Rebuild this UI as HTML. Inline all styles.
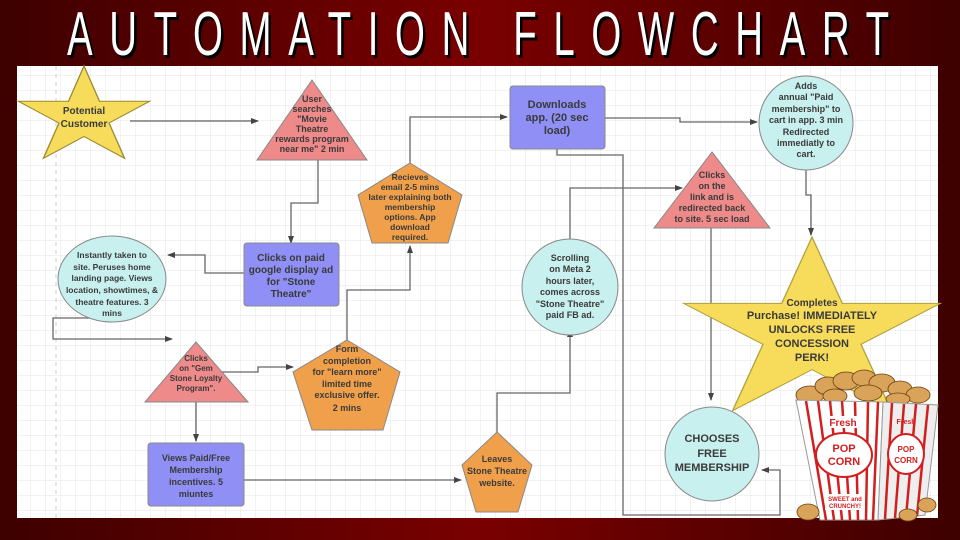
<!DOCTYPE html>
<html><head><meta charset="utf-8"><style>
html,body{margin:0;padding:0;width:960px;height:540px;overflow:hidden;background:#5a0000}
svg{display:block}
text{font-family:"Liberation Sans",Arial,sans-serif;font-weight:bold;fill:#3a3a3a;text-anchor:middle}
</style></head><body>
<svg width="960" height="540" viewBox="0 0 960 540" xmlns="http://www.w3.org/2000/svg">
<defs>
<linearGradient id="bg" x1="0" y1="0" x2="1" y2="0">
<stop offset="0" stop-color="#3e0000"/><stop offset="0.5" stop-color="#7a0000"/><stop offset="1" stop-color="#3e0000"/>
</linearGradient>
<pattern id="grid" width="15" height="15" patternUnits="userSpaceOnUse">
<path d="M15 0H0V15" fill="none" stroke="#e4e4e4" stroke-width="1"/>
</pattern>
<marker id="ar" markerWidth="8" markerHeight="8" refX="7" refY="4" orient="auto" markerUnits="userSpaceOnUse">
<path d="M0,1 L8,4 L0,7z" fill="#444"/>
</marker>
<polygon id="star" points="0,-1 0.2245,-0.309 0.951,-0.309 0.363,0.118 0.588,0.809 0,0.382 -0.588,0.809 -0.363,0.118 -0.951,-0.309 -0.2245,-0.309"/>
</defs>
<rect width="960" height="540" fill="url(#bg)"/>
<g transform="translate(478,0) scale(0.62,1)">
<text x="4" y="58" font-size="62" textLength="1326" lengthAdjust="spacing" style="font-weight:normal;fill:#000">AUTOMATION FLOWCHART</text>
<text x="0" y="55" font-size="62" textLength="1326" lengthAdjust="spacing" style="font-weight:normal;fill:#fff">AUTOMATION FLOWCHART</text>
</g>
<rect x="17" y="66" width="921" height="452" fill="#fff"/>
<rect x="17" y="66" width="921" height="452" fill="url(#grid)"/>
<line x1="56" y1="66" x2="56" y2="518" stroke="#ccc" stroke-dasharray="4,4"/>

<g fill="none" stroke="#666" stroke-width="1.3">
<path d="M130,121 H258" marker-end="url(#ar)"/>
<path d="M318,160 V203 H291 V243" marker-end="url(#ar)"/>
<path d="M244,273 H205 V255 H168" marker-end="url(#ar)"/>
<path d="M115,322 V318 H53 V339 H172" marker-end="url(#ar)"/>
<path d="M222,372 H258 V367 H293" marker-end="url(#ar)"/>
<path d="M196,400 V441" marker-end="url(#ar)"/>
<path d="M244,480 H461" marker-end="url(#ar)"/>
<path d="M497,432 V393 H570 V330" marker-end="url(#ar)"/>
<path d="M347,345 V290 H410 V246" marker-end="url(#ar)"/>
<path d="M410,163 V117 H507" marker-end="url(#ar)"/>
<path d="M605,118 H680 V122 H757" marker-end="url(#ar)"/>
<path d="M557,149 V155 H623 V515 H780 V470 H762" marker-end="url(#ar)"/>
<path d="M570,240 V188 H682" marker-end="url(#ar)"/>
<path d="M711,228 V400" marker-end="url(#ar)"/>
<path d="M806,170 V195 H811 V235" marker-end="url(#ar)"/>
</g>

<g stroke="#888" stroke-width="1">
<use href="#star" transform="translate(84,117) scale(69,51)" fill="#f7dc5c" stroke="#9a8a30" stroke-width="0.02"/>
<polygon points="312,80 257,160 367,160" fill="#ee8a8a"/>
<rect x="244" y="243" width="95" height="63" rx="3" fill="#8f8ff5"/>
<ellipse cx="112" cy="279" rx="54" ry="43" fill="#c8f0ee"/>
<polygon points="410,163 462,195 448,243 372,243 358,195" fill="#f0a04a"/>
<rect x="510" y="86" width="95" height="63" rx="3" fill="#8f8ff5"/>
<circle cx="806" cy="123" r="47" fill="#c8f0ee"/>
<polygon points="712,152 654,228 770,228" fill="#ee8a8a"/>
<circle cx="570" cy="287" r="48" fill="#c8f0ee"/>
<polygon points="196,342 145,402 248,402" fill="#ee8a8a"/>
<polygon points="347,340 400,372 383,430 312,430 293,372" fill="#f0a04a"/>
<rect x="148" y="443" width="96" height="63" rx="3" fill="#8f8ff5"/>
<polygon points="497,432 532,465 518,512 476,512 462,465" fill="#f0a04a"/>
<circle cx="712" cy="454" r="47" fill="#c8f0ee"/>
<use href="#star" transform="translate(812,333) scale(135,96)" fill="#f7dc5c" stroke="#b0a040" stroke-width="0.01"/>
</g>

<g font-size="10">
<text x="84" y="114">Potential</text><text x="84" y="127">Customer</text>
<text x="312" y="102" font-size="9">User</text><text x="312" y="112" font-size="9">searches</text><text x="312" y="122" font-size="9">"Movie</text><text x="312" y="132" font-size="9">Theatre</text><text x="312" y="142" font-size="9">rewards program</text><text x="312" y="152" font-size="9">near me" 2 min</text>
<text x="291" y="261">Clicks on paid</text><text x="291" y="273">google display ad</text><text x="291" y="285">for "Stone</text><text x="291" y="297">Theatre"</text>
<g font-size="8.5"><text x="112" y="258">Instantly taken to</text><text x="112" y="270">site. Peruses home</text><text x="112" y="281">landing page.  Views</text><text x="112" y="293">location, showtimes, &amp;</text><text x="112" y="305">theatre features. 3</text><text x="112" y="316">mins</text></g>
<g font-size="8.5"><text x="410" y="180">Recieves</text><text x="410" y="190">email 2-5 mins</text><text x="410" y="200">later explaining both</text><text x="410" y="210">membership</text><text x="410" y="220">options. App</text><text x="410" y="230">download</text><text x="410" y="240">required.</text></g>
<text x="557" y="108" font-size="11">Downloads</text><text x="557" y="121" font-size="11">app. (20 sec</text><text x="557" y="134" font-size="11">load)</text>
<g font-size="9"><text x="806" y="89">Adds</text><text x="806" y="100">annual "Paid</text><text x="806" y="112">membership" to</text><text x="806" y="123">cart in app. 3 min</text><text x="806" y="135">Redirected</text><text x="806" y="146">immediatly to</text><text x="806" y="157">cart.</text></g>
<g font-size="9"><text x="712" y="178">Clicks</text><text x="712" y="189">on the</text><text x="712" y="200">link and is</text><text x="712" y="211">redirected back</text><text x="712" y="222">to site.  5 sec load</text></g>
<g font-size="9"><text x="570" y="261">Scrolling</text><text x="570" y="272">on Meta 2</text><text x="570" y="284">hours later,</text><text x="570" y="295">comes across</text><text x="570" y="307">"Stone Theatre"</text><text x="570" y="318">paid FB ad.</text></g>
<g font-size="8"><text x="196" y="361">Clicks</text><text x="196" y="371">on "Gem</text><text x="196" y="381">Stone Loyalty</text><text x="196" y="391">Program".</text></g>
<g font-size="9"><text x="347" y="352">Form</text><text x="347" y="364">completion</text><text x="347" y="375">for "learn more"</text><text x="347" y="387">limited time</text><text x="347" y="398">exclusive offer.</text><text x="347" y="411">2 mins</text></g>
<g font-size="9"><text x="196" y="461">Views Paid/Free</text><text x="196" y="473">Membership</text><text x="196" y="485">incentives. 5</text><text x="196" y="497">miuntes</text></g>
<g font-size="9"><text x="497" y="462">Leaves</text><text x="497" y="474">Stone Theatre</text><text x="497" y="486">website.</text></g>
<g font-size="11"><text x="712" y="442">CHOOSES</text><text x="712" y="457">FREE</text><text x="712" y="471">MEMBERSHIP</text></g>
<g font-size="10"><text x="812" y="306">Completes</text></g>
<g font-size="11"><text x="812" y="319">Purchase! IMMEDIATELY</text><text x="812" y="333">UNLOCKS FREE</text><text x="812" y="347">CONCESSION</text><text x="812" y="361">PERK!</text></g>
</g>

<!-- popcorn -->
<g>
<g fill="#d9a45a" stroke="#6b4010" stroke-width="0.8">
<ellipse cx="810" cy="395" rx="14" ry="9"/><ellipse cx="828" cy="386" rx="13" ry="9"/><ellipse cx="846" cy="381" rx="13" ry="9"/><ellipse cx="864" cy="378" rx="12" ry="8"/><ellipse cx="882" cy="383" rx="13" ry="9"/><ellipse cx="900" cy="389" rx="12" ry="8"/><ellipse cx="918" cy="395" rx="12" ry="8"/><ellipse cx="835" cy="396" rx="12" ry="7"/><ellipse cx="868" cy="393" rx="14" ry="8"/><ellipse cx="898" cy="399" rx="12" ry="6"/>
</g>
<polygon points="796,400 883,402 878,520 820,520" fill="#fff" stroke="#999"/>
<polygon points="883,402 938,405 925,515 878,520" fill="#eee" stroke="#999"/>
<g stroke="#d41e1e" stroke-width="2.5">
<line x1="806" y1="401" x2="826" y2="520"/><line x1="818" y1="401" x2="834" y2="520"/><line x1="830" y1="401" x2="842" y2="520"/><line x1="842" y1="401" x2="850" y2="520"/><line x1="855" y1="402" x2="858" y2="520"/><line x1="868" y1="402" x2="866" y2="520"/><line x1="878" y1="402" x2="873" y2="520"/>
<line x1="892" y1="403" x2="885" y2="519"/><line x1="904" y1="404" x2="895" y2="518"/><line x1="916" y1="404" x2="906" y2="517"/><line x1="928" y1="405" x2="917" y2="516"/>
</g>
<ellipse cx="844" cy="455" rx="28" ry="22" fill="#fff" stroke="#d41e1e" stroke-width="2"/>
<ellipse cx="906" cy="454" rx="18" ry="20" fill="#fff" stroke="#d41e1e" stroke-width="2"/>
<text x="844" y="452" font-size="11" style="fill:#d41e1e">POP</text><text x="844" y="465" font-size="11" style="fill:#d41e1e">CORN</text>
<text x="906" y="452" font-size="8" style="fill:#d41e1e">POP</text><text x="906" y="463" font-size="8" style="fill:#d41e1e">CORN</text>
<rect x="826" y="416" width="34" height="12" fill="#fff"/><text x="843" y="426" font-size="10" style="fill:#d41e1e">Fresh</text>
<text x="906" y="424" font-size="7" style="fill:#d41e1e">Fresh</text>
<rect x="825" y="494" width="40" height="16" fill="#fff"/><text x="845" y="501" font-size="6" style="fill:#d41e1e">SWEET and</text><text x="845" y="508" font-size="6" style="fill:#d41e1e">CRUNCHY!</text>
<g fill="#d9a45a" stroke="#6b4010" stroke-width="0.8">
<ellipse cx="808" cy="512" rx="11" ry="8"/><ellipse cx="927" cy="505" rx="9" ry="7"/><ellipse cx="908" cy="515" rx="9" ry="6"/>
</g>
</g>
</svg>
</body></html>
